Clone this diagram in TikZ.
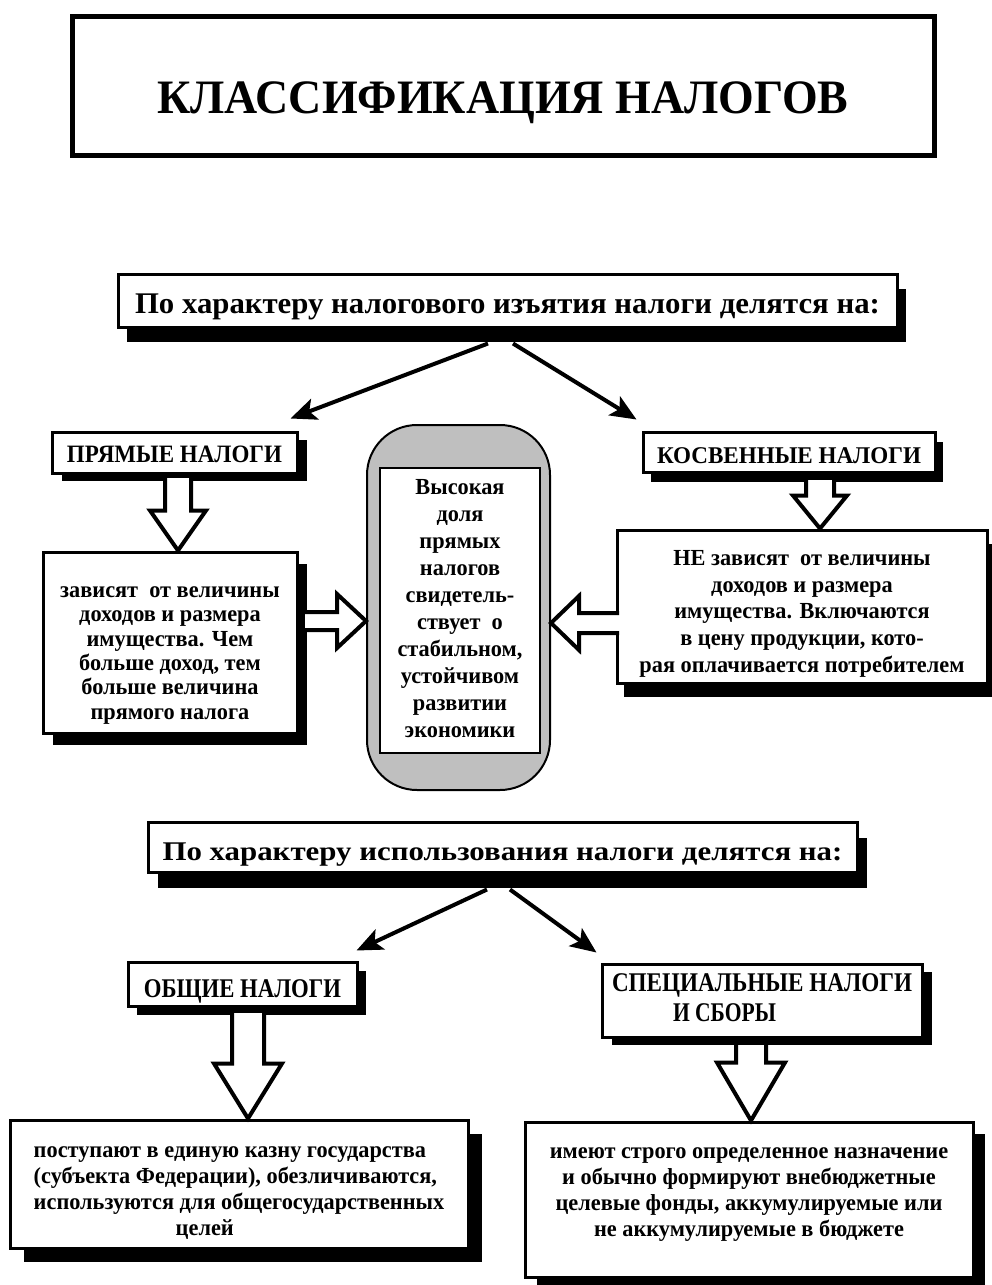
\documentclass[tikz,border=0pt]{standalone}
\usepackage{fontspec}
\setmainfont{Liberation Serif}
\newfontfamily\hdf[FakeStretch=1.0]{Liberation Serif}
\newfontfamily\bodyf[FakeStretch=0.97]{Liberation Serif}
\usetikzlibrary{arrows.meta,shadows,calc}
\newcommand\fitw[2]{\resizebox{#1}{\height}{#2}}
% text block shifted vertically by #1 without changing its centring, column type #2
\newcommand\tb[3]{\raisebox{#1}[\height][\depth]{\begin{tabular}{@{}#2@{}}#3\end{tabular}}}
% vertical hollow block arrow: #1 start, #2 tip, #3 head length, #4 head half width, #5 shaft half width
\newcommand\blockv[5]{\draw[hollow] let \p1=(#1), \p2=(#2) in
  ({\x1-#5pt},\y1) -- ({\x1-#5pt},{\y2+#3pt}) -- ({\x1-#4pt},{\y2+#3pt}) -- (\x2,\y2)
  -- ({\x1+#4pt},{\y2+#3pt}) -- ({\x1+#5pt},{\y2+#3pt}) -- ({\x1+#5pt},\y1);}
% horizontal hollow block arrow (signed head length)
\newcommand\blockh[5]{\draw[hollow] let \p1=(#1), \p2=(#2) in
  (\x1,{\y1+#5pt}) -- ({\x2-(#3pt)},{\y1+#5pt}) -- ({\x2-(#3pt)},{\y1+#4pt}) -- (\x2,\y2)
  -- ({\x2-(#3pt)},{\y1-#4pt}) -- ({\x2-(#3pt)},{\y1-#5pt}) -- (\x1,{\y1-#5pt});}
\tikzset{
  box/.style={draw, line width=3pt, fill=white, inner sep=0pt},
  sh/.style 2 args={drop shadow={shadow xshift=#1pt,shadow yshift=-#2pt,fill=black,opacity=1}},
  body/.style={font=\bodyf\bfseries\fontsize{23}{#1}\selectfont},
  arr/.style={line width=4pt, -{Stealth[length=26pt,width=22pt,inset=6pt]}},
  hollow/.style={draw=black, line width=4pt, fill=white, line join=miter}
}
\begin{document}
\begin{tikzpicture}[x=1pt,y=-1pt]
\fill[white] (0,0) rectangle (992,1285);
\useasboundingbox (0,0) rectangle (992,1285);

% title
\node[draw, line width=5pt, inner sep=0pt, minimum width=862pt, minimum height=139pt,
      text height=55pt, text depth=0pt] (title) at (503,85.5)
  {\fitw{691pt}{\hdf\bfseries\fontsize{48}{50}\selectfont КЛАССИФИКАЦИЯ НАЛОГОВ}};

% first classification
\node[box, sh={9}{15}, minimum width=779pt, minimum height=53pt, text height=25pt, text depth=0pt]
  (A) at (507.5,300.5)
  {\fitw{745pt}{\hdf\bfseries\fontsize{30}{31}\selectfont По характеру налогового изъятия налоги делятся на:}};

\node[box, sh={10}{8}, minimum width=245pt, minimum height=41pt, text height=19pt, text depth=0pt]
  (pr) at (174.5,452.5)
  {\fitw{215pt}{\hdf\bfseries\fontsize{25}{26}\selectfont ПРЯМЫЕ НАЛОГИ}};

\node[box, sh={8}{10}, minimum width=292pt, minimum height=40pt, text height=22pt, text depth=0pt]
  (ko) at (789,452)
  {\fitw{264pt}{\hdf\bfseries\fontsize{24}{25}\selectfont КОСВЕННЫЕ НАЛОГИ}};

\node[box, sh={10}{12}, minimum width=254pt, minimum height=181pt, body=24.4pt]
  (pl) at (170,642.5)
  {\tb{-11pt}{c}{зависят\ \ от величины\\доходов и размера\\имущества. Чем\\больше доход, тем\\больше величина\\прямого налога}};

\node[box, sh={7}{14}, minimum width=370pt, minimum height=153pt, body=26.7pt]
  (pk) at (802,606.5)
  {\tb{-7pt}{c}{НЕ зависят\ \ от величины\\доходов и размера\\имущества. Включаются\\в цену продукции, кото-\\рая оплачивается потребителем}};

\node[draw, line width=2pt, fill=black!25, rounded corners=50pt, minimum width=183pt,
      minimum height=365pt, inner sep=0pt] (caps) at (458.5,607.5) {};
\node[draw, line width=1.5pt, fill=white, minimum width=160pt, minimum height=285pt,
      inner sep=0pt, body=27pt] (capin) at (460,610.5)
  {\tb{0pt}{c}{Высокая\\доля\\прямых\\налогов\\свидетель-\\ствует\ \ о\\стабильном,\\устойчивом\\развитии\\экономики}};

\draw[arr] ([shift={(-19.5,15)}]A.south) -- ([shift={(-8,-12)}]pr.north east);
\draw[arr] ([shift={(5.5,15)}]A.south) -- ([shift={(-5,-11)}]ko.north west);

\coordinate (s1) at (178,478);
\blockv{s1}{pl.north -| s1}{40}{28}{13}
\coordinate (s2) at (820,480);
\blockv{s2}{pk.north -| s2}{33}{27}{14}
\coordinate (h1) at (305,621);
\blockh{h1}{caps.west |- h1}{29}{27}{9}
\coordinate (h2) at (619,623);
\blockh{h2}{caps.east |- h2}{-28}{27}{10}

% second classification
\node[box, sh={10}{16}, minimum width=709pt, minimum height=50pt, text height=26pt, text depth=0pt]
  (B) at (502.5,847)
  {\fitw{680pt}{\hdf\bfseries\fontsize{27}{28}\selectfont По характеру использования налоги делятся на:}};

\node[box, sh={9}{9}, minimum width=229pt, minimum height=44pt, text height=27pt, text depth=0pt]
  (ob) at (242.5,984)
  {\fitw{197pt}{\hdf\bfseries\fontsize{27}{28}\selectfont ОБЩИЕ НАЛОГИ}};

\node[box, sh={10}{8}, minimum width=320pt, minimum height=73pt,
      font=\hdf\bfseries\fontsize{27}{30}\selectfont]
  (sp) at (762,1000.5)
  {\tb{0pt}{l}{\fitw{300pt}{СПЕЦИАЛЬНЫЕ НАЛОГИ}\\\hspace*{61pt}\fitw{103pt}{И СБОРЫ}}};

\draw[arr] ([shift={(-15.5,16)}]B.south) -- ([shift={(-2,-10)}]ob.north east);
\draw[arr] ([shift={(7.5,16)}]B.south) -- ([shift={(-4,-10)}]sp.north west);

\node[box, sh={14}{14}, minimum width=458pt, minimum height=128pt, body=26pt]
  (bl) at (239,1184)
  {\tb{-7pt}{l}{поступают в единую казну государства\\(субъекта Федерации), обезличиваются,\\используются для общегосударственных\\\hspace*{142pt}целей}};

\node[box, sh={12}{12}, minimum width=448pt, minimum height=155pt, body=26pt]
  (br) at (749,1199.5)
  {\tb{7pt}{c}{имеют строго определенное назначение\\и обычно формируют внебюджетные\\целевые фонды, аккумулируемые или\\не аккумулируемые в бюджете}};

\coordinate (s3) at (248,1013);
\blockv{s3}{bl.north -| s3}{55}{34}{16}
\coordinate (s4) at (751,1045);
\blockv{s4}{br.north -| s4}{58}{34}{15}
\end{tikzpicture}
\end{document}
